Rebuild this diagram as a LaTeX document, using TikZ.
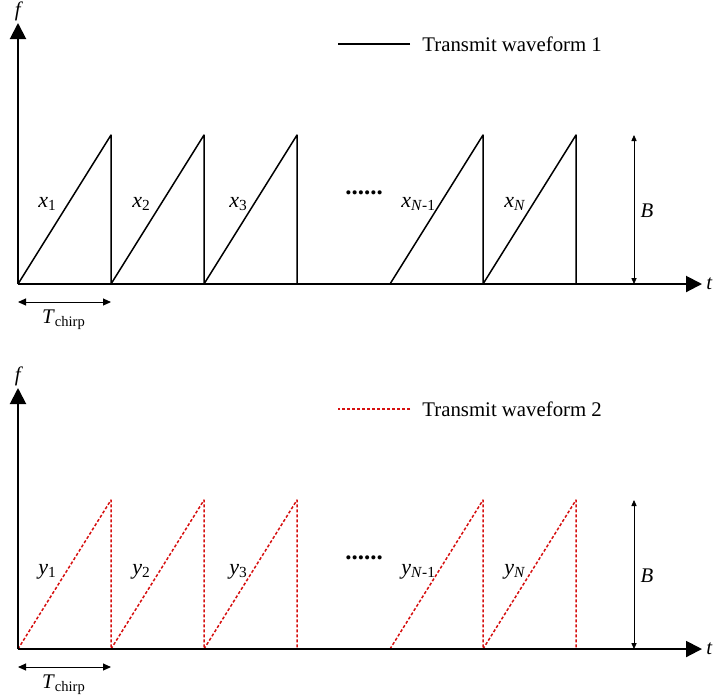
\documentclass[tikz,border=0pt]{standalone}
\usepackage{fontspec}
\setmainfont{Liberation Serif}
\usetikzlibrary{arrows.meta}
\definecolor{wavered}{RGB}{214,16,16}
\newcommand{\sig}[2]{\textit{#1}\textsubscript{#2}}

\begin{document}
\begin{tikzpicture}[x=0.5pt,y=-0.5pt, font=\fontsize{10.4}{12}\selectfont, line join=round,
	axis/.style={line width=1pt,-{Triangle[length=8pt,width=8pt]}},
	wave/.style={line width=0.75pt,black},
	wavedot/.style={line width=0.75pt,wavered,dash pattern=on 1.5pt off 1pt},
	chirplab/.style={anchor=base west,inner sep=0pt,font=\fontsize{11}{12}\selectfont},
	dimarrow/.style={line width=0.4pt,{Triangle[length=3pt,width=2.6pt]}-{Triangle[length=3pt,width=2.6pt]}},
	tarrow/.style={line width=0.5pt,{Triangle[length=4pt,width=3.5pt]}-{Triangle[length=4pt,width=3.5pt]}}]
	\useasboundingbox (0,0) rectangle (716,698);
	% two panels: x-chirps (solid) and y-chirps (red dotted)
	\foreach \dy/\sty/\s/\n in {0/wave/x/1, 365/wavedot/y/2}{
	\begin{scope}[shift={(0,\dy)}]
		\coordinate (O\n) at (18,284);
		% saw teeth
		\foreach \a in {18,111,204,390,483}
			\draw[\sty] (\a,284) -- (\a+93,135) -- (\a+93,284);
		\draw[axis] (O\n) -- (18,23);
		\draw[axis] (O\n) -- (702,284);
		\node (f\n) at (19,11) {\textit{f}};
		\node[anchor=east,inner sep=0pt] (t\n) at (713,284) {\textit{t}};
		% chirp labels
		\foreach \xx/\k/\lab in {38/1/1, 132/2/2, 229/3/3, 401/4/{\textit{N}-1}, 504/5/{\textit{N}}}
			\node[chirplab] (\s\k) at (\xx,207+\n*2-2) {\sig{\s}{\lab}};
		\node[anchor=base west,inner sep=0pt] (dots\n) at (345,194) {\fontsize{12.5}{12}\selectfont\textbf{......}};
		% bandwidth and chirp duration
		\coordinate (Btop\n) at (634,135);
		\coordinate (Bbot\n) at (634,284);
		\draw[dimarrow] (Btop\n) -- (Bbot\n);
		\node (B\n) at (647,211) {\textit{B}};
		\coordinate (Ts\n) at (18,302);
		\coordinate (Te\n) at (111,302);
		\draw[tarrow] (Ts\n) -- (Te\n);
		\node (T\n) at (64,320) {\sig{T}{chirp}};
		% legend
		\node[anchor=west,inner sep=0pt] (leg\n) at (422,44) {Transmit waveform \n};
		\draw[\sty] (leg\n.west) ++(-12,0) -- ++(-72,0);
	\end{scope}
	}
\end{tikzpicture}
\end{document}
